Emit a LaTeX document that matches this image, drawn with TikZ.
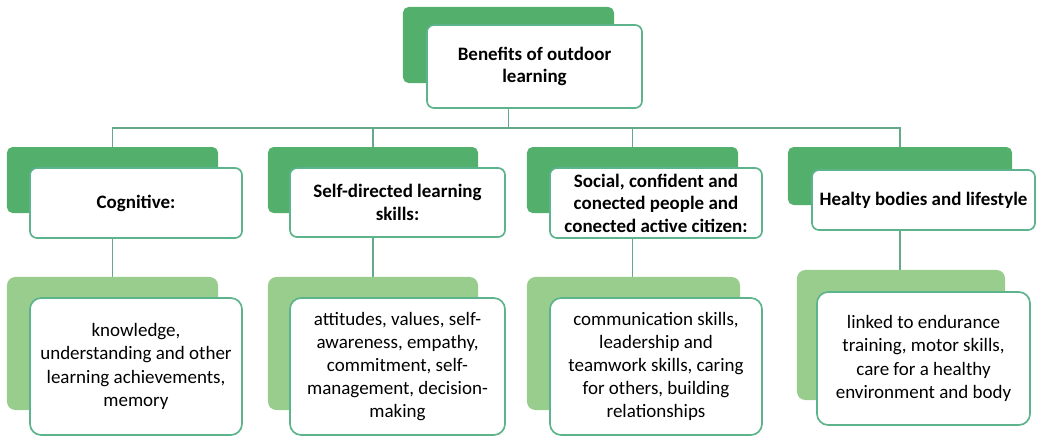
\documentclass[tikz,border=0pt]{standalone}
\usepackage{fontspec}
\setmainfont{Carlito}
\usepackage{xcolor}
\usetikzlibrary{backgrounds}
\definecolor{darkleaf}{HTML}{52B06C}
\definecolor{lightleaf}{HTML}{98CD8D}
\definecolor{edgeleaf}{HTML}{5DB38C}
\tikzset{every node/.style={align=center}}

\begin{document}
\begin{tikzpicture}[x=0.025cm, y=-0.025cm,
    backbox/.style={fill=darkleaf, rounded corners=4pt, inner sep=0pt},
    detailback/.style={fill=lightleaf, rounded corners=6pt, inner sep=0pt},
    frontbox/.style={draw=edgeleaf, line width=1.2pt, fill=white, rounded corners=5pt, inner sep=2pt,
                     font=\fontsize{13.5}{16}\selectfont\bfseries},
    detailbox/.style={draw=edgeleaf, line width=1.2pt, fill=white, rounded corners=8pt, inner sep=2pt,
                      font=\fontsize{13.5}{16.5}\selectfont},
    link/.style={draw=edgeleaf!80!gray, line width=1pt}
]
  \useasboundingbox (0,0) rectangle (1040,437);

  % root
  \node (rootback) at (508.5,45) [backbox, minimum width=5.275cm, minimum height=1.9cm] {};
  \node (root)     at (534.5,66.5) [frontbox, minimum width=5.375cm, minimum height=2.075cm] {Benefits of outdoor\\learning};

  % categories
  \node (cogback)  at (112.5,180) [backbox, minimum width=5.275cm, minimum height=1.65cm] {};
  \node (cog)      at (136,203)   [frontbox, minimum width=5.3cm, minimum height=1.75cm] {Cognitive:};
  \node (selfback) at (373,180)   [backbox, minimum width=5.25cm, minimum height=1.65cm] {};
  \node (self)     at (397.5,202.5) [frontbox, minimum width=5.375cm, minimum height=1.725cm] {Self-directed learning\\skills:};
  \node (socback)  at (632.5,180) [backbox, minimum width=5.275cm, minimum height=1.65cm] {};
  \node (soc)      at (656,203)   [frontbox, minimum width=5.3cm, minimum height=1.75cm] {Social, confident and\\conected people and\\conected active citizen:};
  \node (healback) at (900,176)   [backbox, minimum width=5.6cm, minimum height=1.45cm] {};
  \node (heal)     at (923.5,200) [frontbox, minimum width=5.575cm, minimum height=1.5cm] {Healty bodies and lifestyle};

  % details
  \node (cogdback)  at (112.5,343.5) [detailback, minimum width=5.275cm, minimum height=3.325cm] {};
  \node (cogd)      at (136,366.5)   [detailbox, minimum width=5.3cm, minimum height=3.425cm] {knowledge,\\understanding and other\\learning achievements,\\memory};
  \node (selfdback) at (373,343.5)   [detailback, minimum width=5.25cm, minimum height=3.325cm] {};
  \node (selfd)     at (397.5,366.5) [detailbox, minimum width=5.375cm, minimum height=3.425cm] {attitudes, values, self-\\awareness, empathy,\\commitment, self-\\management, decision-\\making};
  \node (socdback)  at (633.5,343.5) [detailback, minimum width=5.325cm, minimum height=3.325cm] {};
  \node (socd)      at (656,366.5)   [detailbox, minimum width=5.3cm, minimum height=3.425cm] {communication skills,\\leadership and\\teamwork skills, caring\\for others, building\\relationships};
  \node (healdback) at (901,335)     [detailback, minimum width=5.2cm, minimum height=3.25cm] {};
  \node (heald)     at (923.5,358.5) [detailbox, minimum width=5.325cm, minimum height=3.325cm] {linked to endurance\\training, motor skills,\\care for a healthy\\environment and body};

  \coordinate (bus) at (508.5,128);

  \begin{scope}[on background layer]
    \foreach \c in {cogback,selfback,socback,healback}
      \draw[link] (rootback.south) -- (rootback.south |- bus) -| (\c.north);
    \draw[link] (cogback.south)  -- (cogdback.north);
    \draw[link] (selfback.south) -- (selfdback.north);
    \draw[link] (socback.south)  -- (socdback.north -| socback);
    \draw[link] (healback.south) -- (healdback.north -| healback);
  \end{scope}
\end{tikzpicture}
\end{document}
